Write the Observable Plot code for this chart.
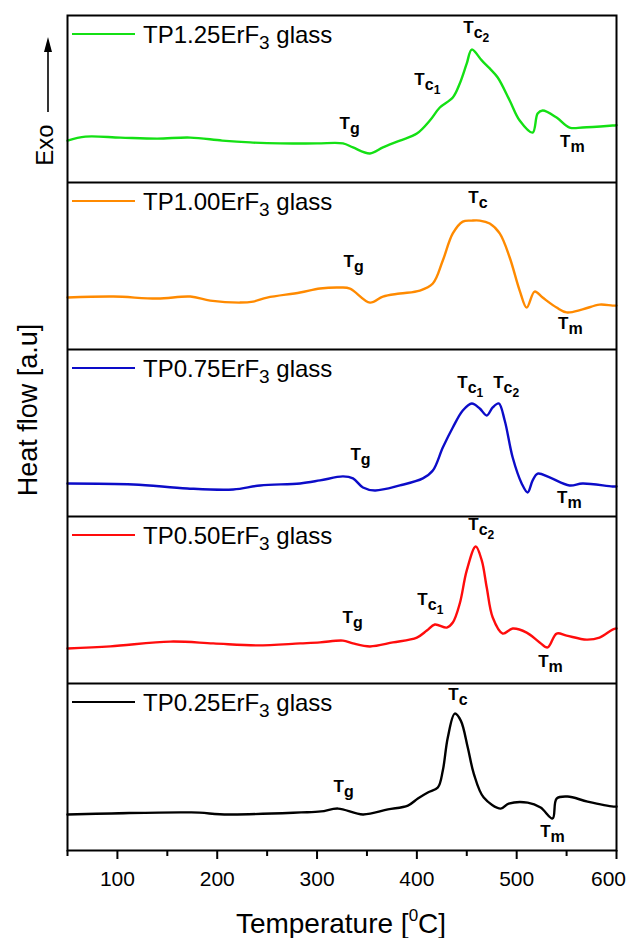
<!DOCTYPE html>
<html><head><meta charset="utf-8">
<script src="https://cdn.jsdelivr.net/npm/d3@7"></script>
<script src="https://cdn.jsdelivr.net/npm/@observablehq/plot@0.6"></script>
<style>body{margin:0;background:#fff;color:#000}</style>
</head><body><div id="chart"></div>
<script>
// ---- data (heat flow in arbitrary units, each panel spans 0..10) ----
const legendMain = ["TP1.25ErF", "TP1.00ErF", "TP0.75ErF", "TP0.50ErF", "TP0.25ErF"];
const colors = ["#14e014", "#ff8a00", "#0c0cc8", "#ff0c0c", "#000000"];
const offsets = [40, 30, 20, 10, 0];

const temp125 = [50,68,103,140,173,205,233,263,300,326,336,353,366,383,400,413,423,436,443,450,455,465,473,481,493,503,516,521,526,540,553,566,596,600];
const flow125 = [2.51,2.75,2.69,2.63,2.69,2.51,2.40,2.34,2.34,2.34,2.10,1.74,2.10,2.51,2.93,3.71,4.49,5.09,5.93,7.13,7.96,7.31,6.83,6.29,4.91,3.71,2.99,4.13,4.31,3.89,3.29,3.29,3.41,3.43];

const temp100 = [50,96,140,173,193,223,236,250,283,303,323,333,353,366,383,403,416,426,436,446,455,463,473,483,493,503,510,518,526,540,550,566,583,596,600];
const flow100 = [3.11,3.17,3.05,3.17,2.93,2.81,2.87,3.11,3.41,3.65,3.71,3.65,2.81,3.17,3.35,3.53,3.95,5.33,6.95,7.66,7.72,7.72,7.54,6.95,5.51,3.53,2.51,3.47,3.11,2.51,2.22,2.40,2.69,2.63,2.63];

const temp075 = [50,116,170,216,243,283,303,326,336,346,358,383,406,416,426,436,446,455,463,470,476,482,488,496,505,511,516,521,533,553,566,596,600];
const flow075 = [1.98,1.92,1.68,1.62,1.86,1.98,2.16,2.40,2.28,1.74,1.56,1.86,2.28,2.75,4.13,5.33,6.35,6.77,6.47,6.05,6.53,6.77,5.75,3.53,1.98,1.44,2.16,2.57,2.34,1.86,1.98,1.80,1.80];

const temp050 = [50,93,153,196,240,283,303,326,336,353,376,400,410,418,430,436,443,450,459,465,470,476,486,496,510,523,531,540,550,570,583,596,600];
const flow050 = [2.10,2.22,2.51,2.40,2.28,2.40,2.46,2.57,2.40,2.22,2.46,2.75,3.17,3.53,3.35,3.65,4.79,6.77,8.20,7.37,5.75,3.95,2.99,3.29,3.05,2.46,2.16,2.99,2.87,2.63,2.75,3.23,3.30];

const temp025 = [50,94,174,211,284,304,321,346,371,391,401,411,421,426,431,438,444,451,457,467,484,492,511,524,536,540,551,571,597,600];
const flow025 = [2.16,2.22,2.28,2.16,2.28,2.34,2.51,2.16,2.46,2.69,3.11,3.47,3.77,4.79,6.77,8.20,7.78,6.17,4.61,3.17,2.51,2.81,2.87,2.57,1.92,3.11,3.23,2.93,2.63,2.63];

const majorTicks = [100, 200, 300, 400, 500, 600];
const lastTick = [600];
const minorTicks = [50, 150, 250, 350, 450, 550];

// annotations (panel index, subscript, sub-subscript, temperature, heat flow)
const annPanel  = [0,0,0,0, 1,1,1, 2,2,2,2, 3,3,3,3, 4,4,4];
const annSub    = ["g","c","c","m", "g","c","m", "g","c","c","m", "g","c","c","m", "g","c","m"];
const annSubSub = ["","1","2","", "","","", "","1","2","", "","1","2","", "","",""];
const annT      = [323,398,447,544, 327,452,542, 334,441,477,541, 326,401,452,522, 317,432,524];
const annV      = [3.17,5.81,8.92,2.10, 4.91,8.74,1.20, 3.35,7.66,7.66,0.78, 3.59,4.67,9.16,0.96, 3.47,8.98,0.78];

// ---- build ----
const temps = [temp125, temp100, temp075, temp050, temp025];
const flows = [flow125, flow100, flow075, flow050, flow025];
const rows = [];
temps.forEach((ts, k) => ts.forEach((t, j) => rows.push({T: t, y: flows[k][j] + offsets[k], k})));

const FONT = "'Liberation Sans', Arial, sans-serif";
const plot = Plot.plot({
  width: 627, height: 938,
  marginTop: 15, marginBottom: 88, marginLeft: 67, marginRight: 11,
  x: {domain: [50, 600]},
  y: {domain: [0, 50], axis: null},
  style: {fontFamily: FONT, background: "#fff", color: "#000"},
  marks: [
    Plot.line(rows, {x: "T", y: "y", z: "k", stroke: d => colors[d.k], strokeWidth: 2.4, curve: "catmull-rom"}),
    Plot.ruleY([10, 20, 30, 40], {stroke: "#000", strokeWidth: 2}),
    Plot.frame({stroke: "#000", strokeWidth: 2}),
    Plot.axisX(majorTicks, {tickSize: 9, tickPadding: 12, fontSize: 21, strokeWidth: 2, label: null,
      tickFormat: d => d === 600 ? "" : String(d)}),
    Plot.axisX(lastTick, {tickSize: 0, tickPadding: 21, fontSize: 21, label: null, dx: -8}),
    Plot.axisX(minorTicks, {tickSize: 6, tickFormat: () => "", strokeWidth: 2, label: null})
  ]
});

const xs = plot.scale("x"), ys = plot.scale("y");
const svg = d3.select(plot);
const g = svg.append("g").attr("font-family", FONT).attr("fill", "#000").attr("text-anchor", "start");

// legends
offsets.forEach((off, i) => {
  const top = ys.apply(off + 10);
  g.append("line").attr("x1", 72).attr("x2", 135).attr("y1", top + 19).attr("y2", top + 19)
    .attr("stroke", colors[i]).attr("stroke-width", 2);
  const t = g.append("text").attr("x", 143).attr("y", top + 28).attr("font-size", 24);
  t.append("tspan").text(legendMain[i]);
  t.append("tspan").attr("font-size", 19).attr("dy", 6).text("3");
  t.append("tspan").attr("dy", -6).text(" glass");
});

// annotations
annPanel.forEach((p, i) => {
  const t = g.append("text").attr("x", xs.apply(annT[i])).attr("y", ys.apply(annV[i] + offsets[p]))
    .attr("font-weight", "bold").attr("font-size", 17);
  t.append("tspan").text("T");
  t.append("tspan").attr("font-size", 16).attr("dy", 5).text(annSub[i]);
  if (annSubSub[i]) t.append("tspan").attr("font-size", 12).attr("dy", 4).text(annSubSub[i]);
});

// y label
g.append("text").attr("transform", "translate(37,410) rotate(-90)").attr("text-anchor", "middle")
  .attr("font-size", 27).text("Heat flow [a.u]");
// Exo arrow
g.append("text").attr("transform", "translate(53,145) rotate(-90)").attr("text-anchor", "middle")
  .attr("font-size", 24).text("Exo");
g.append("line").attr("x1", 48).attr("x2", 48).attr("y1", 112).attr("y2", 48)
  .attr("stroke", "#000").attr("stroke-width", 1.6);
g.append("path").attr("d", "M48,37 L44,52 L52,52 Z").attr("fill", "#000");

// x title
const xt = g.append("text").attr("x", 341).attr("y", 933).attr("text-anchor", "middle").attr("font-size", 28);
xt.append("tspan").text("Temperature [");
xt.append("tspan").attr("font-size", 17).attr("dy", -12).text("0");
xt.append("tspan").attr("dy", 12).text("C]");

document.getElementById("chart").appendChild(plot);
</script>
</body></html>
